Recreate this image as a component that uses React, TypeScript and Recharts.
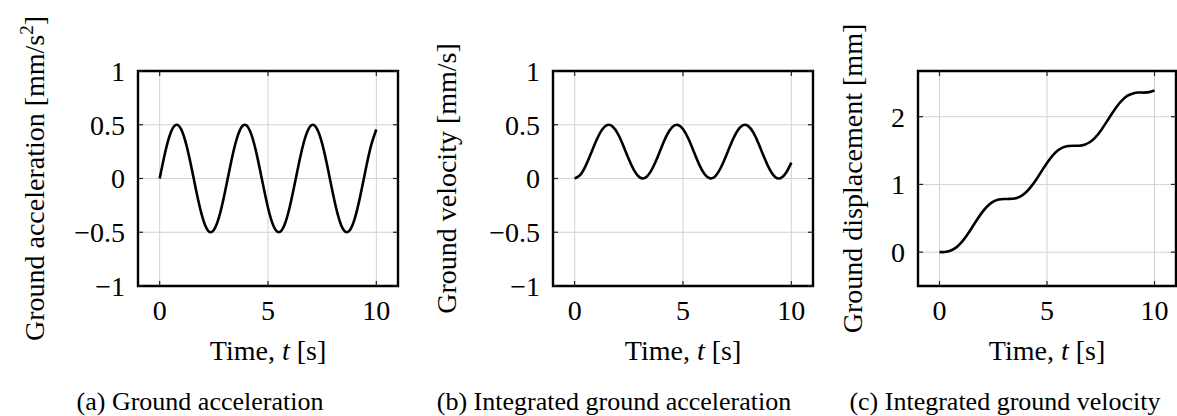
import { CartesianGrid, Label, Line, LineChart, ReferenceArea, XAxis, YAxis } from 'recharts'

const time = [0, 0.25, 0.5, 0.75, 1, 1.25, 1.5, 1.75, 2, 2.25, 2.5, 2.75, 3, 3.25, 3.5, 3.75, 4, 4.25, 4.5, 4.75, 5, 5.25, 5.5, 5.75, 6, 6.25, 6.5, 6.75, 7, 7.25, 7.5, 7.75, 8, 8.25, 8.5, 8.75, 9, 9.25, 9.5, 9.75, 10]
const acceleration = [0, 0.24, 0.421, 0.499, 0.455, 0.299, 0.071, -0.175, -0.378, -0.489, -0.479, -0.353, -0.14, 0.108, 0.328, 0.469, 0.495, 0.399, 0.206, -0.038, -0.272, -0.44, -0.5, -0.438, -0.268, -0.033, 0.21, 0.401, 0.495, 0.467, 0.325, 0.104, -0.144, -0.356, -0.481, -0.488, -0.376, -0.171, 0.075, 0.301, 0.456]
const velocity = [0, 0.031, 0.115, 0.232, 0.354, 0.45, 0.498, 0.484, 0.414, 0.303, 0.179, 0.073, 0.01, 0.006, 0.062, 0.163, 0.287, 0.401, 0.478, 0.499, 0.46, 0.369, 0.249, 0.129, 0.039, 0.001, 0.023, 0.102, 0.216, 0.339, 0.44, 0.495, 0.49, 0.426, 0.319, 0.195, 0.085, 0.015, 0.003, 0.051, 0.148]
const displacement = [0, 0.003, 0.02, 0.063, 0.136, 0.238, 0.357, 0.481, 0.595, 0.685, 0.745, 0.776, 0.785, 0.786, 0.793, 0.82, 0.876, 0.963, 1.073, 1.197, 1.318, 1.422, 1.5, 1.547, 1.567, 1.571, 1.572, 1.587, 1.626, 1.696, 1.794, 1.912, 2.036, 2.152, 2.245, 2.31, 2.344, 2.357, 2.356, 2.363, 2.386]

const timeTicks = [0, 5, 10]
const signedTicks = [-1, -0.5, 0, 0.5, 1]
const displacementTicks = [0, 1, 2]
const captions = ['(a) Ground acceleration', '(b) Integrated ground acceleration', '(c) Integrated ground velocity']

const rows = time.map((t, i) => ({ t, a: acceleration[i], v: velocity[i], d: displacement[i] }))

const FONT = '"Liberation Serif", "Times New Roman", Times, serif'
const textStyle = { fontFamily: FONT }
const CHART_H = 416
const PLOT_TOP = 71
const PLOT_H = 215
const TICK_GAP = 13
const X_TICK_GAP = 14

const fmt = (v: number) => String(v).replace('-', '\u2212')

function YTick(props: any) {
  const { x, y, payload, plotWidth } = props
  const left = x + TICK_GAP
  return (
    <g>
      <line x1={left} x2={left + 5} y1={y} y2={y} stroke="#222" strokeWidth={1.2} />
      <line x1={left + plotWidth - 5} x2={left + plotWidth} y1={y} y2={y} stroke="#222" strokeWidth={1.2} />
      <text x={x} y={y} dy="0.355em" textAnchor="end" fontSize={28} style={textStyle} fill="#000">{fmt(payload.value)}</text>
    </g>
  )
}

function XTick(props: any) {
  const { x, y, payload } = props
  const bottom = y - X_TICK_GAP
  const top = bottom - PLOT_H
  return (
    <g>
      <line x1={x} x2={x} y1={bottom - 5} y2={bottom} stroke="#222" strokeWidth={1.2} />
      <line x1={x} x2={x} y1={top} y2={top + 5} stroke="#222" strokeWidth={1.2} />
      <text x={x} y={y} dy="0.71em" textAnchor="middle" fontSize={28} style={textStyle} fill="#000">{fmt(payload.value)}</text>
    </g>
  )
}

function Panel({ left, width, axisWidth, right, dataKey, domain, ticks, labelX, ylabel }: {
  left: number; width: number; axisWidth: number; right: number; dataKey: string
  domain: [number, number]; ticks: number[]; labelX: number; ylabel: React.ReactNode
}) {
  const plotWidth = width - axisWidth - right
  return (
    <div style={{ position: 'absolute', left, top: 0 }}>
      <LineChart width={width} height={CHART_H} data={rows} margin={{ top: PLOT_TOP, right, bottom: CHART_H - PLOT_TOP - PLOT_H - 40, left: 0 }}>
        <CartesianGrid stroke="#d2d2d2" strokeWidth={1} />
        <XAxis dataKey="t" type="number" domain={[-1, 11]} ticks={timeTicks} height={40} tickSize={0} tickMargin={X_TICK_GAP}
          axisLine={false} tickLine={false} tick={(p: any) => <XTick {...p} />}>
          <Label content={(p: any) => {
            const vb = p.viewBox
            return (
              <text x={vb.x + vb.width / 2} y={360} textAnchor="middle" fontSize={28} style={textStyle} fill="#000">
                Time, <tspan fontStyle="italic">t</tspan> [s]
              </text>
            )
          }} />
        </XAxis>
        <YAxis type="number" domain={domain} ticks={ticks} width={axisWidth} tickSize={0} tickMargin={TICK_GAP}
          axisLine={false} tickLine={false} tick={(p: any) => <YTick {...p} plotWidth={plotWidth} />}>
          <Label content={(p: any) => {
            const vb = p.viewBox
            const cy = vb.y + vb.height / 2
            return (
              <text x={labelX} y={cy} transform={`rotate(-90 ${labelX} ${cy})`} textAnchor="middle" fontSize={28} style={textStyle} fill="#000">
                {ylabel}
              </text>
            )
          }} />
        </YAxis>
        <Line type="natural" dataKey={dataKey} stroke="#000" strokeWidth={2.6} dot={false} activeDot={false} isAnimationActive={false} />
        <ReferenceArea x1={-1} x2={11} y1={domain[0]} y2={domain[1]} fill="none" stroke="#000" strokeWidth={2.4} ifOverflow="visible" />
      </LineChart>
    </div>
  )
}

export default function App() {
  return (
    <div style={{ position: 'absolute', left: 0, top: 0, width: 1177, height: 416, background: '#fff', overflow: 'hidden' }}>
      <Panel left={0} width={410} axisWidth={138} right={12} dataKey="a" domain={[-1, 1]} ticks={signedTicks} labelX={44}
        ylabel={<>Ground acceleration [mm/s<tspan dy={-11} fontSize={19}>2</tspan><tspan dy={11}>]</tspan></>} />
      <Panel left={410} width={415} axisWidth={143} right={12} dataKey="v" domain={[-1, 1]} ticks={signedTicks} labelX={46}
        ylabel="Ground velocity [mm/s]" />
      <Panel left={825} width={352} axisWidth={93} right={1} dataKey="d" domain={[-0.5, 2.675]} ticks={displacementTicks} labelX={37}
        ylabel="Ground displacement [mm]" />
      <svg width={1177} height={416} style={{ position: 'absolute', left: 0, top: 0, pointerEvents: 'none' }}>
        {captions.map((c, i) => (
          <text key={c} x={[200, 614, 1005][i]} y={410} textAnchor="middle" fontSize={26} style={textStyle} fill="#000">{c}</text>
        ))}
      </svg>
    </div>
  )
}
